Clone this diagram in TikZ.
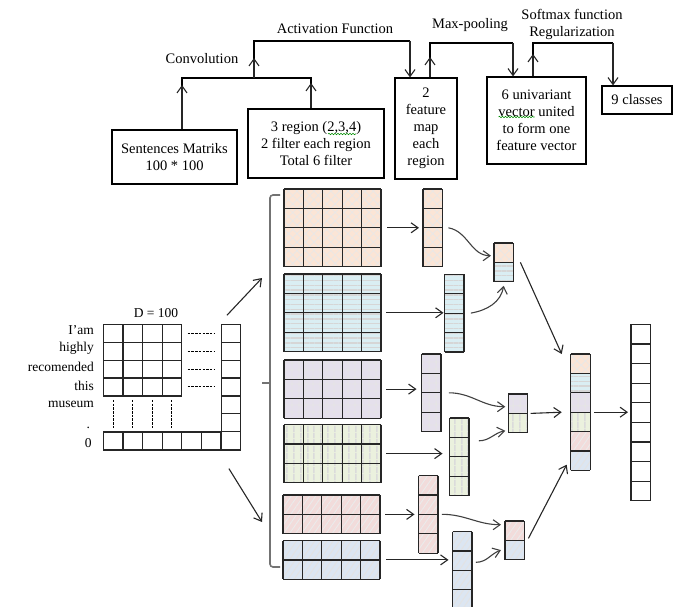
\documentclass[tikz,border=0pt]{standalone}
\usepackage{fontspec}
\setmainfont{Liberation Serif}
\usetikzlibrary{arrows.meta,patterns.meta,calc,decorations.pathmorphing}

\definecolor{cOrange}{HTML}{FBE5D6}
\definecolor{cBlue}{HTML}{DAEEF3}
\definecolor{cPurple}{HTML}{E5E0EC}
\definecolor{cGreen}{HTML}{EBF1DE}
\definecolor{cRed}{HTML}{F2DCDB}
\definecolor{cSteel}{HTML}{DCE6F2}

% cell size of the feature maps
\def\cellw{19.4}
\def\cellh{19.4}

\tikzset{
  box/.style={draw, line width=1.1pt, inner sep=0pt, align=center, font=\fontsize{14.5}{17}\selectfont},
  lbl/.style={font=\fontsize{14.5}{17}\selectfont, align=center, inner sep=0pt},
  wlbl/.style={font=\fontsize{13.5}{15}\selectfont, inner sep=0pt},
  link/.style={line width=1.1pt},
  flow/.style={line width=1.1pt, black!85, -{Straight Barb[length=7pt,width=10pt]}},
  curvy/.style={flow, black!75},
  cellline/.style={line width=1.2pt, black!85},
  gap/.style={line width=0.9pt, dash pattern=on 2.5pt off 1.2pt},
  bracket/.style={line width=1.6pt, black!55, rounded corners=3pt},
  squiggle/.style={green!55!black, line width=0.6pt, decorate,
    decoration={snake, amplitude=0.7pt, segment length=3pt}},
  whitefill/.style={fill=white},
  orangefill/.style={fill=cOrange, postaction={pattern={Hatch[angle=45,distance=6pt,line width=0.6pt]}, pattern color=black!9}},
  bluefill/.style={fill=cBlue, postaction={pattern={Lines[angle=0,distance=4.8pt,line width=1.4pt]}, pattern color=black!16}},
  purplefill/.style={fill=cPurple, postaction={pattern={Hatch[angle=0,distance=6.5pt,line width=0.8pt]}, pattern color=black!10}},
  greenfill/.style={fill=cGreen, postaction={pattern={Lines[angle=90,distance=6.5pt,line width=1.5pt]}, pattern color=black!14}},
  redfill/.style={fill=cRed, postaction={pattern={Lines[angle=55,distance=5pt,line width=0.9pt]}, pattern color=black!8}},
  steelfill/.style={fill=cSteel, postaction={pattern={Lines[angle=55,distance=5pt,line width=0.9pt]}, pattern color=black!11}},
}

% name, x, y (top left), columns, rows, fill style
\newcommand\fmap[6]{%
  \node[#6, anchor=north west, inner sep=0pt, outer sep=0pt,
        minimum width={#4*\cellw}, minimum height={#5*\cellh}] (#1) at ({#2},{#3}) {};
  \foreach \k in {0,...,#4}
    \draw[cellline] ($(#1.north west)+(\k*\cellw,0)$) -- ++(0,#5*\cellh);
  \foreach \k in {0,...,#5}
    \draw[cellline] ($(#1.north west)+(0,\k*\cellh)$) -- ++(#4*\cellw,0);
}

\begin{document}
\begin{tikzpicture}[x=1pt,y=-1pt]
\useasboundingbox (0,0) rectangle (677,607);

% boxes on top
\node[box, minimum width=125, minimum height=54] (sentbox) at (174.5,157) {Sentences Matriks\\100 * 100};
\node[box, minimum width=136, minimum height=69] (filtbox) at (316,143.5) {3 region (2,3,4)\\2 filter each region\\Total 6 filter};
\node[box, minimum width=62, minimum height=101] (mapbox) at (426,128.5) {2\\feature\\map\\each\\region};
\node[box, minimum width=99, minimum height=87] (vecbox) at (536.5,120.5) {6 univariant\\vector united\\to form one\\feature vector};
\node[box, minimum width=70, minimum height=28] (clsbox) at (637,100) {9 classes};
\draw[squiggle] ($(filtbox.center)+(12,-9.5)$) -- ++(28,0);
\draw[squiggle] ($(vecbox.center)+(-38,-3.5)$) -- ++(36,0);

\node[lbl] (cvlbl) at (202,59) {Convolution};
\node[lbl] (aclbl) at (335,29) {Activation Function};
\node[lbl] (mplbl) at (470,25) {Max-pooling};
\node[lbl] (smlbl) at (572,24) {Softmax function\\Regularization};

\coordinate (cvL) at (182,78);
\coordinate (cvR) at (311,78);
\coordinate (cvM) at (254,78);
\coordinate (acL) at (254,41);
\coordinate (acR) at (410,41);
\coordinate (mpL) at (430,43);
\coordinate (mpR) at (513,43);
\coordinate (smL) at (533,43);
\coordinate (smR) at (613,43);

\draw[link] (sentbox.north -| cvL) -- (cvL) -- (cvR) -- (filtbox.north -| cvR);
\draw[flow] (sentbox.north -| cvL) -- ([yshift=-7pt]cvL);
\draw[flow] (filtbox.north -| cvR) -- ([yshift=-5pt]cvR);
\draw[link] (cvM) -- (acL) -- (acR);
\draw[flow] (cvM) -- ([yshift=-17pt]acL);
\draw[flow] (acR) -- (mapbox.north -| acR);
\draw[link] (mapbox.north -| mpL) -- (mpL) -- (mpR);
\draw[flow] (mapbox.north -| mpL) -- ([yshift=-14pt]mpL);
\draw[flow] (mpR) -- (vecbox.north -| mpR);
\draw[link] (vecbox.north -| smL) -- (smL) -- (smR);
\draw[flow] (vecbox.north -| smL) -- ([yshift=-11pt]smL);
\draw[flow] (smR) -- (clsbox.north -| smR);

% sentence matrix
\begin{scope}
  \def\cellw{19.6}\def\cellh{17.9}
  \fmap{words}{103.3}{324.3}{4}{4}{whitefill}
  \fmap{zeros}{103.3}{432}{7}{1}{whitefill}
  \fmap{wordvec}{221.1}{324.3}{1}{7}{whitefill}
  \foreach \k in {1,...,4} {
    \draw[gap] ($(words.north east)+(6,\k*\cellh-9)$) -- ++(27,0);
    \draw[gap] ($(words.south west)+(\k*\cellw-9.8,4)$) -- ++(0,28);
  }
\end{scope}
\node[wlbl] (dim) at (156,313) {D = 100};
\node[wlbl, anchor=east] (w1) at (94,330) {I’am};
\node[wlbl, anchor=east] (w2) at (94,348.5) {highly};
\node[wlbl, anchor=east] (w3) at (94,367) {recomended};
\node[wlbl, anchor=east] (w4) at (94,385.5) {this};
\node[wlbl, anchor=east] (w5) at (94,404) {museum};
\node[wlbl, anchor=base] (w6) at (88.3,428) {.};
\node[wlbl, anchor=base] (w7) at (88.3,447) {0};

% the filters
\draw[bracket] (280,195) -- (270,195) -- (270,567) -- (280,567);
\draw[bracket] (270,383) -- (262,383);
\coordinate (upin) at (262,278);
\coordinate (lowin) at (262,522);
\draw[flow] ([xshift=-4pt,yshift=9pt]wordvec.north) -- (upin);
\draw[flow] ([xshift=-2pt,yshift=-19pt]wordvec.south) -- (lowin);

\fmap{om}{284}{189}{5}{4}{orangefill}
\fmap{bm}{284}{274}{5}{4}{bluefill}
\fmap{pm}{284}{360}{5}{3}{purplefill}
\fmap{gm}{284}{424.5}{5}{3}{greenfill}
\fmap{rm}{283}{495}{5}{2}{redfill}
\fmap{sm}{283}{540.5}{5}{2}{steelfill}

% feature maps
\fmap{ov}{423}{189}{1}{4}{orangefill}
\fmap{bv}{444.5}{274.3}{1}{4}{bluefill}
\fmap{pv}{421.5}{354}{1}{4}{purplefill}
\fmap{gv}{449.5}{418}{1}{4}{greenfill}
\fmap{rv}{418.5}{475.5}{1}{4}{redfill}
\fmap{sv}{452.5}{531.5}{1}{4}{steelfill}

\draw[flow] ([xshift=6pt]om.east) -- ([xshift=-4pt]ov.west |- om.east);
\draw[flow] ([xshift=5pt]bm.east) -- ([xshift=-1pt]bv.west |- bm.east);
\draw[flow] ([xshift=5pt]pm.east) -- ([xshift=-5pt]pv.west |- pm.east);
\draw[flow] ([xshift=5pt]gm.east) -- ([xshift=-7pt]gv.west |- gm.east);
\draw[flow] ([xshift=5pt]rm.east) -- ([xshift=-4pt]rv.west |- rm.east);
\draw[flow] ([xshift=6pt]sm.east) -- ([xshift=-4pt]sv.west |- sm.east);

% max-pooling
\fmap{p1a}{494}{243}{1}{1}{orangefill}
\fmap{p1b}{494}{262.4}{1}{1}{bluefill}
\fmap{p2a}{508.3}{394}{1}{1}{purplefill}
\fmap{p2b}{508.3}{413.4}{1}{1}{greenfill}
\fmap{p3a}{505}{521}{1}{1}{redfill}
\fmap{p3b}{505}{540.4}{1}{1}{steelfill}

\draw[curvy] ([xshift=6pt]ov.east) to[out=-10,in=180] ([xshift=-3pt,yshift=-3pt]p1a.west);
\draw[curvy] ([xshift=7pt]bv.east) to[out=10,in=-100] ([yshift=-4pt]p1b.south);
\draw[curvy] ([xshift=8pt]pv.east) to[out=0,in=180] ([xshift=-3pt,yshift=-3pt]p2a.west);
\draw[curvy] ([xshift=10pt,yshift=16pt]gv.east) to[out=0,in=190] ([xshift=-3pt,yshift=2pt]p2b.south west);
\draw[curvy] ([xshift=4pt]rv.east) to[out=0,in=180] ([xshift=-4pt,yshift=6pt]p3a.west);
\draw[curvy] ([xshift=4pt,yshift=8pt]sv.east) to[out=0,in=200] ([xshift=-4pt]p3b.west);

% one feature vector and the classes
\foreach \s [count=\i] in {orangefill,bluefill,purplefill,greenfill,redfill,steelfill}
  \fmap{cat\i}{570.7}{354+(\i-1)*\cellh}{1}{1}{\s};
\begin{scope}
  \def\cellh{19.6}
  \fmap{outv}{631}{324.3}{1}{9}{whitefill}
\end{scope}

\draw[flow] ([xshift=7pt]p1a.south east) -- ([xshift=-9pt]cat1.north west);
\draw[flow] ([xshift=3pt]p2a.south east) -- ([xshift=-9pt]cat3.south west);
\draw[flow] ([xshift=4pt,yshift=2pt]p3a.south east) -- ([xshift=-4pt,yshift=-4pt]cat6.west);
\draw[flow] ([xshift=4pt]cat3.south east) -- ([xshift=-3pt]outv.west |- cat3.south east);
\end{tikzpicture}
\end{document}
